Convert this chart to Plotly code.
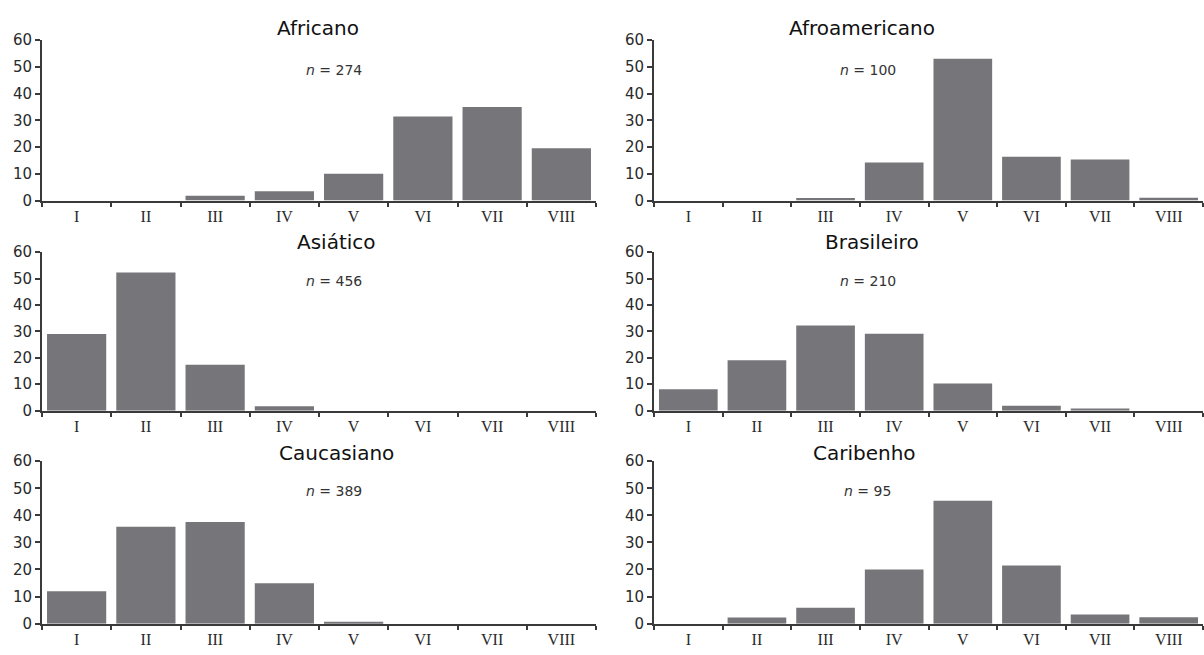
import plotly.graph_objects as go

W, H = 1204, 655

categories = ["I", "II", "III", "IV", "V", "VI", "VII", "VIII"]

titles = ["Africano", "Afroamericano", "Asiático", "Brasileiro", "Caucasiano", "Caribenho"]
sample_sizes = [274, 100, 456, 210, 389, 95]

africano = [0, 0, 1.8, 3.5, 10, 31.4, 35, 19.6]
afroamericano = [0, 0, 1.0, 14.2, 53, 16.4, 15.4, 1.1]
asiatico = [29, 52.3, 17.4, 1.7, 0, 0, 0, 0]
brasileiro = [8.1, 19.1, 32.2, 29.1, 10.3, 1.9, 0.8, 0]
caucasiano = [12, 35.8, 37.5, 14.9, 0.7, 0, 0, 0]
caribenho = [0, 2.3, 5.9, 20, 45.4, 21.5, 3.4, 2.4]

series = [africano, afroamericano, asiatico, brasileiro, caucasiano, caribenho]

y_ticks = [0, 10, 20, 30, 40, 50, 60]

# layout geometry (pixels)
x_px = [(42, 596), (654, 1203)]           # left/right plot columns
y_px = [(32, 197), (250, 413), (465, 632)]  # rows: pixel of 60, pixel of 0
title_gap_px = [12, 10, 8]                  # title centre above the 60 line
title_x_px = [318, 862, 336, 872, 336, 864]
n_x_px = [334, 868, 334, 868, 334, 868]

BAR = "rgb(118,118,122)"
AXIS = "#3a3a3a"
TXT = "#2a2a2a"

fig = go.Figure()
annotations = []

for i, (vals, title, n) in enumerate(zip(series, titles, sample_sizes)):
    row, col = divmod(i, 2)
    k = i + 1
    xa = "x" if k == 1 else f"x{k}"
    ya = "y" if k == 1 else f"y{k}"
    fig.add_trace(go.Bar(
        x=categories, y=vals, xaxis=xa, yaxis=ya,
        marker=dict(color=BAR, line=dict(width=0)),
        showlegend=False, hoverinfo="x+y",
    ))
    x0, x1 = x_px[col]
    ytop, ybot = y_px[row]
    xdom = [x0 / W, x1 / W]
    ydom = [1 - ybot / H, 1 - ytop / H]
    xkey = "xaxis" if k == 1 else f"xaxis{k}"
    ykey = "yaxis" if k == 1 else f"yaxis{k}"
    fig.update_layout({
        xkey: dict(
            domain=xdom, anchor=ya, type="category",
            categoryorder="array", categoryarray=categories,
            range=[-0.5, 7.5], showline=True, linecolor=AXIS, linewidth=2,
            ticks="outside", tickson="boundaries", ticklen=4, tickwidth=1.5,
            tickcolor=AXIS, showgrid=False, zeroline=False,
            tickfont=dict(family="Liberation Serif", size=16, color=TXT),
            fixedrange=True,
        ),
        ykey: dict(
            domain=ydom, anchor=xa, range=[0, 60], tickvals=y_ticks,
            showline=True, linecolor=AXIS, linewidth=2,
            ticks="outside", ticklen=5, tickwidth=1.5, tickcolor=AXIS,
            showgrid=False, zeroline=False,
            tickfont=dict(family="DejaVu Sans", size=15, color=TXT),
            fixedrange=True,
        ),
    })
    # panel title
    annotations.append(dict(
        text=title, xref="paper", yref="paper",
        x=title_x_px[i] / W, y=1 - (ytop - title_gap_px[row]) / H,
        xanchor="center", yanchor="middle", showarrow=False,
        font=dict(family="DejaVu Sans", size=20, color="#111111"),
    ))
    # sample size label
    annotations.append(dict(
        text=f"<i>n</i> = {n}", xref="paper", yref="paper",
        x=n_x_px[i] / W, y=1 - (ybot - (ybot - ytop) * 49 / 60) / H,
        xanchor="center", yanchor="middle", showarrow=False,
        font=dict(family="DejaVu Sans", size=14, color="#333333"),
    ))

fig.update_layout(
    width=W, height=H, margin=dict(l=0, r=0, t=0, b=0),
    paper_bgcolor="white", plot_bgcolor="white",
    bargap=0.145, annotations=annotations,
)

fig.write_html(
    "out.html",
    config={"displayModeBar": False},
    post_script="document.body.style.margin='0';document.body.style.overflow='hidden';",
)
